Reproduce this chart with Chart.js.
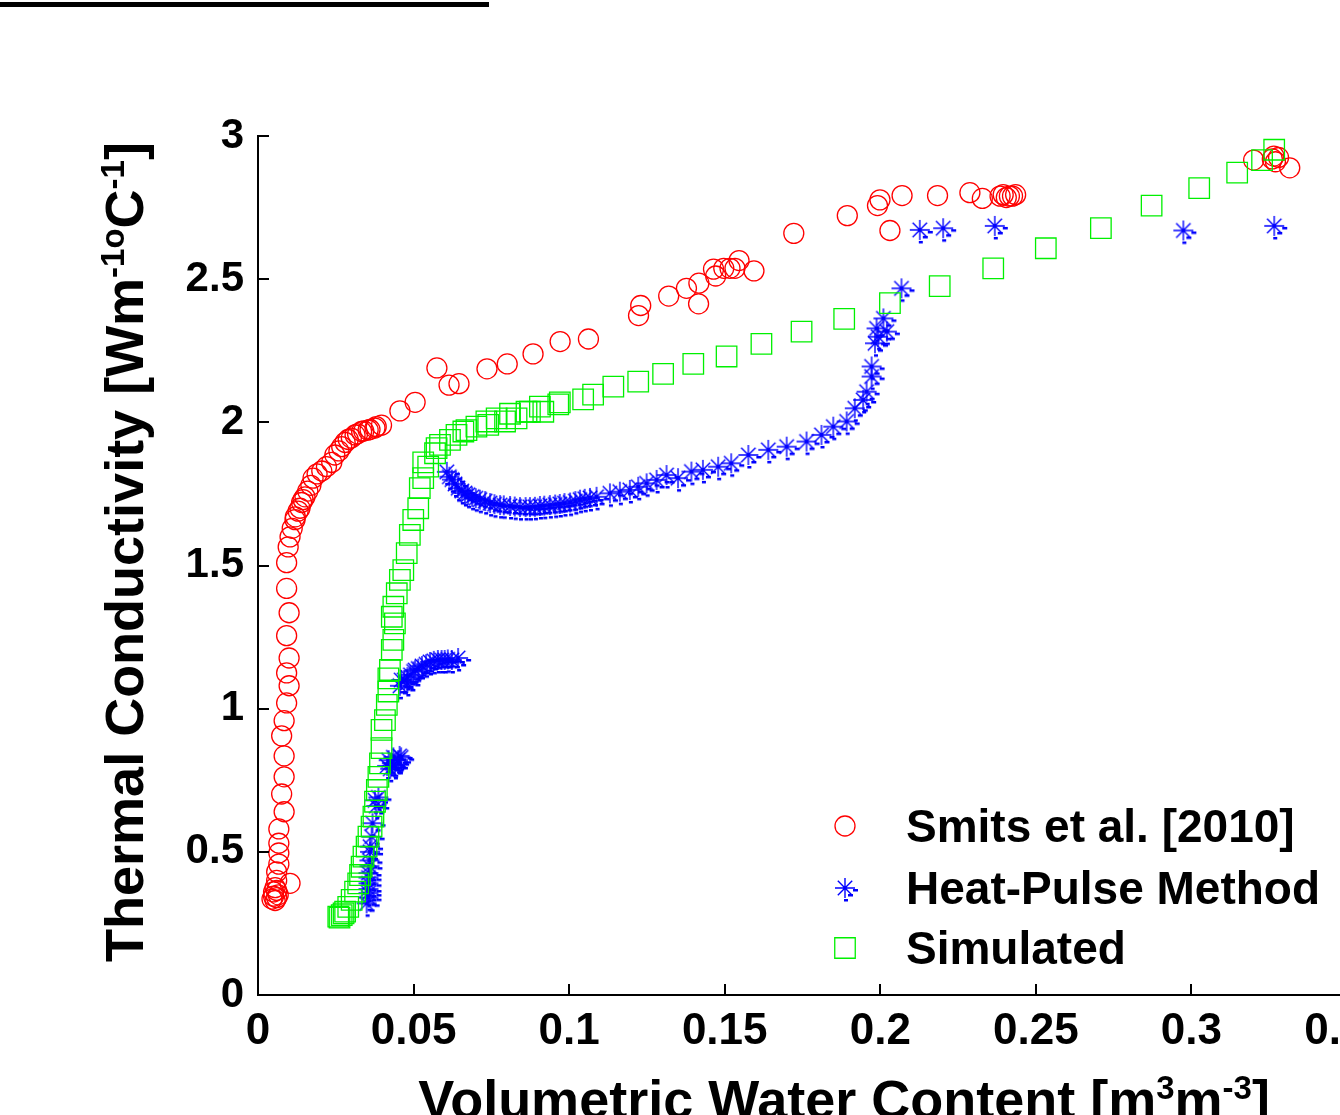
<!DOCTYPE html>
<html>
<head>
<meta charset="utf-8">
<script src="https://cdn.jsdelivr.net/npm/chart.js@4.4.1/dist/chart.umd.min.js"></script>
<style>
	body { margin: 0; overflow: hidden; background: #fff; }
	#topRule { position: absolute; left: 0; top: 2px; width: 489px; height: 5px; background: #000; }
	#wrap { position: absolute; left: 0; top: 0; }
</style>
</head>
<body>
<div id="topRule"></div>
<div id="wrap"><canvas id="conductivityChart" width="1400" height="1115"></canvas></div>
<script>
// Smits et al. [2010]
const smitsX = [0.0045, 0.005, 0.0055, 0.006, 0.0065, 0.005, 0.006, 0.0055, 0.006, 0.006, 0.0067, 0.0067, 0.0067, 0.0067, 0.0103,
	0.0084, 0.0076, 0.0084, 0.0084, 0.0076, 0.0084, 0.0092, 0.01, 0.0092, 0.01, 0.0092, 0.01, 0.0092, 0.0092, 0.0097,
	0.0103, 0.011, 0.0119, 0.012, 0.0129, 0.0135, 0.014, 0.0145, 0.0151, 0.016, 0.017, 0.0177, 0.019, 0.0205, 0.022,
	0.0237, 0.0247, 0.026, 0.0269, 0.028, 0.029, 0.03, 0.0312, 0.032, 0.0333, 0.034, 0.0354, 0.036, 0.0376, 0.038,
	0.0397, 0.0456, 0.0505, 0.0575, 0.0614, 0.0646, 0.0736, 0.0801, 0.0884, 0.0971, 0.1062, 0.1223, 0.123, 0.132, 0.1377,
	0.1416, 0.1417, 0.1464, 0.1471, 0.1497, 0.1517, 0.1533, 0.1546, 0.1594, 0.1722, 0.1894, 0.1991, 0.1999, 0.2031, 0.207,
	0.2184, 0.2288, 0.2328, 0.2385, 0.2395, 0.2405, 0.2415, 0.2425, 0.2435, 0.32, 0.326, 0.3265, 0.327, 0.328, 0.3316];
const smitsY = [0.335, 0.345, 0.33, 0.34, 0.35, 0.36, 0.365, 0.375, 0.4, 0.43, 0.457, 0.496, 0.53, 0.58, 0.39,
	0.64, 0.702, 0.762, 0.835, 0.905, 0.958, 1.02, 1.08, 1.125, 1.177, 1.255, 1.335, 1.42, 1.51, 1.565,
	1.6, 1.63, 1.66, 1.67, 1.69, 1.7, 1.72, 1.73, 1.74, 1.76, 1.78, 1.805, 1.82, 1.83, 1.845,
	1.86, 1.886, 1.9, 1.915, 1.93, 1.94, 1.945, 1.956, 1.96, 1.968, 1.97, 1.973, 1.975, 1.98, 1.985,
	1.99, 2.04, 2.07, 2.19, 2.13, 2.135, 2.187, 2.204, 2.239, 2.282, 2.291, 2.373, 2.408, 2.441, 2.468,
	2.414, 2.486, 2.535, 2.511, 2.538, 2.538, 2.538, 2.565, 2.529, 2.66, 2.722, 2.757, 2.777, 2.67, 2.792,
	2.792, 2.802, 2.782, 2.79, 2.795, 2.785, 2.79, 2.79, 2.795, 2.916, 2.92, 2.93, 2.91, 2.925, 2.889];

// Heat-Pulse Method
const pulseX = [0.0349, 0.0355, 0.0355, 0.0355, 0.0355, 0.0355, 0.0355, 0.0358, 0.0358, 0.036, 0.036, 0.0365, 0.0368, 0.038, 0.0376,
	0.0387, 0.0415, 0.042, 0.0425, 0.043, 0.0435, 0.044, 0.045, 0.0455, 0.046,
	0.0456, 0.046, 0.047, 0.048, 0.048, 0.049, 0.05, 0.0505, 0.0515, 0.0527, 0.054, 0.0553, 0.0565, 0.0578, 0.059, 0.06,
	0.061, 0.0623, 0.0643,
	0.0607, 0.0615, 0.0623, 0.0633, 0.0643, 0.0655, 0.0665, 0.0675, 0.0688, 0.07, 0.0713, 0.073, 0.0746, 0.076, 0.0778,
	0.079, 0.081, 0.0825, 0.0842, 0.086, 0.0874, 0.089, 0.0906, 0.092, 0.0938, 0.0955, 0.097, 0.0985, 0.1003, 0.102,
	0.1035, 0.105, 0.1067, 0.1088, 0.1131, 0.1163, 0.1195, 0.1222, 0.1249, 0.1281, 0.1313, 0.135, 0.1393, 0.143, 0.1479,
	0.1521, 0.1576, 0.164, 0.1699, 0.1763, 0.1811, 0.1849, 0.1892, 0.1918, 0.1945, 0.1956, 0.1972, 0.1972, 0.1983, 0.1988,
	0.1993, 0.201, 0.2021, 0.2068, 0.2127, 0.2202, 0.2368, 0.2974, 0.3266];
const pulseY = [0.32, 0.34, 0.356, 0.37, 0.39, 0.41, 0.426, 0.45, 0.47, 0.5, 0.518, 0.553, 0.6, 0.66, 0.68,
	0.69, 0.8, 0.82, 0.79, 0.81, 0.83, 0.8, 0.82, 0.835, 0.83,
	1.08, 1.1, 1.1, 1.09, 1.11, 1.118, 1.13, 1.135, 1.14, 1.149, 1.155, 1.163, 1.167, 1.17, 1.17, 1.17,
	1.172, 1.17, 1.177,
	1.827, 1.81, 1.8, 1.785, 1.77, 1.76, 1.753, 1.747, 1.74, 1.735, 1.73, 1.725, 1.718, 1.714, 1.711,
	1.71, 1.708, 1.706, 1.704, 1.704, 1.704, 1.705, 1.708, 1.709, 1.711, 1.713, 1.715, 1.718, 1.72, 1.725,
	1.73, 1.733, 1.736, 1.74, 1.752, 1.758, 1.764, 1.775, 1.787, 1.799, 1.816, 1.805, 1.828, 1.834, 1.845,
	1.857, 1.886, 1.904, 1.915, 1.933, 1.956, 1.985, 2.003, 2.049, 2.078, 2.107, 2.16, 2.195, 2.276, 2.328,
	2.299, 2.363, 2.317, 2.468, 2.672, 2.678, 2.686, 2.67, 2.686];

// Simulated
const simX = [0.0258, 0.0262, 0.0269, 0.0275, 0.028, 0.029, 0.0301, 0.0312, 0.0322, 0.0328, 0.0333, 0.0339, 0.0349, 0.0355, 0.0365,
	0.0371, 0.0376, 0.0382, 0.0387, 0.0392, 0.0397, 0.0397, 0.0408, 0.0414, 0.0419, 0.0419, 0.0424, 0.043, 0.0435, 0.044,
	0.043, 0.0435, 0.0446, 0.0456, 0.0467, 0.0478, 0.0488, 0.0499, 0.0515, 0.052, 0.0531, 0.0531, 0.0547, 0.0569, 0.0574,
	0.0585, 0.0617, 0.0638, 0.066, 0.067, 0.0702, 0.0734, 0.074, 0.0767, 0.0794, 0.081, 0.0831, 0.0863, 0.0874, 0.0906,
	0.0917, 0.0965, 0.097, 0.1045, 0.1077, 0.1142, 0.1222, 0.1302, 0.1399, 0.1506, 0.1618, 0.1747, 0.1884, 0.2031, 0.2191,
	0.2363, 0.2532, 0.2709, 0.2872, 0.3025, 0.3147, 0.3227, 0.3266];
const simY = [0.274, 0.27, 0.279, 0.285, 0.291, 0.308, 0.332, 0.361, 0.39, 0.419, 0.448, 0.483, 0.518, 0.553, 0.588,
	0.623, 0.675, 0.716, 0.762, 0.809, 0.862, 0.926, 0.96, 1.013, 1.06, 1.106, 1.135, 1.205, 1.24, 1.298,
	1.321, 1.356, 1.403, 1.45, 1.484, 1.543, 1.607, 1.659, 1.7, 1.77, 1.805, 1.86, 1.845, 1.892, 1.91,
	1.921, 1.939, 1.956, 1.968, 1.973, 1.985, 2.003, 1.991, 2.014, 2.003, 2.03, 2.014, 2.037, 2.037, 2.055,
	2.037, 2.063, 2.07, 2.08, 2.097, 2.125, 2.142, 2.169, 2.204, 2.23, 2.274, 2.317, 2.361, 2.416, 2.476,
	2.538, 2.608, 2.678, 2.757, 2.818, 2.872, 2.916, 2.952];

const seriesLabels = ['Smits et al. [2010]', 'Heat-Pulse Method', 'Simulated'];
const xTickStep = 0.05;
const yTickStep = 0.5;

const FONT = '"Liberation Sans", Arial, Helvetica, sans-serif';

// asterisk marker with the little dashes it has in the figure
function makeStarMarker() {
	const c = document.createElement('canvas');
	c.width = 40;
	c.height = 40;
	const g = c.getContext('2d');
	const cx = 20, cy = 20, r = 10;
	g.strokeStyle = '#0000ff';
	g.lineWidth = 1.4;
	g.beginPath();
	g.moveTo(cx - r, cy); g.lineTo(cx + r, cy);
	g.moveTo(cx, cy - r); g.lineTo(cx, cy + r);
	const d = r * 0.72;
	g.moveTo(cx - d, cy - d); g.lineTo(cx + d, cy + d);
	g.moveTo(cx - d, cy + d); g.lineTo(cx + d, cy - d);
	g.stroke();
	g.fillStyle = '#0000ff';
	g.fillRect(cx + 8, cy + 1, 5, 2.5);
	g.fillRect(cx + 3, cy + 6, 5, 2.5);
	g.fillRect(cx - 1, cy + 11, 4, 2.5);
	return c;
}
const starMarker = makeStarMarker();

function toPoints(xs, ys) {
	return xs.map((x, i) => ({ x: x, y: ys[i] }));
}

// draws text with superscript parts, centred on (x, y)
function drawRich(ctx, parts, x, y, size) {
	const supSize = Math.round(size * 0.62);
	let total = 0;
	parts.forEach((p) => {
		ctx.font = 'bold ' + (p.sup ? supSize : size) + 'px ' + FONT;
		p.w = ctx.measureText(p.t).width;
		total += p.w;
	});
	let px = x - total / 2;
	parts.forEach((p) => {
		ctx.font = 'bold ' + (p.sup ? supSize : size) + 'px ' + FONT;
		ctx.fillText(p.t, px, p.sup ? y - size * 0.36 : y);
		px += p.w;
	});
}

const decorations = {
	id: 'decorations',
	afterDraw(chart) {
		const { ctx, chartArea, scales } = chart;
		ctx.save();

		// inward ticks
		ctx.strokeStyle = '#000';
		ctx.lineWidth = 2;
		ctx.beginPath();
		scales.y.ticks.forEach((t) => {
			const py = Math.round(scales.y.getPixelForValue(t.value));
			ctx.moveTo(chartArea.left, py);
			ctx.lineTo(chartArea.left + 11, py);
		});
		scales.x.ticks.forEach((t) => {
			const px = Math.round(scales.x.getPixelForValue(t.value));
			ctx.moveTo(px, chartArea.bottom);
			ctx.lineTo(px, chartArea.bottom - 11);
		});
		ctx.stroke();

		// axis titles
		ctx.fillStyle = '#000';
		ctx.textBaseline = 'alphabetic';
		ctx.textAlign = 'left';
		drawRich(ctx, [
			{ t: 'Volumetric Water Content [m' }, { t: '3', sup: true },
			{ t: 'm' }, { t: '-3', sup: true }, { t: ']' }
		], 844, 1118, 54);

		ctx.save();
		ctx.translate(143, 552);
		ctx.rotate(-Math.PI / 2);
		drawRich(ctx, [
			{ t: 'Thermal Conductivity [Wm' }, { t: '-1', sup: true }, { t: 'o', sup: true },
			{ t: 'C' }, { t: '-1', sup: true }, { t: ']' }
		], 0, 0, 54);
		ctx.restore();

		// legend inside the plot
		const rows = [826, 888, 948];
		chart.data.datasets.forEach((ds, i) => {
			const mx = 845, my = rows[i];
			ctx.strokeStyle = ds.borderColor;
			ctx.lineWidth = ds.borderWidth;
			ctx.beginPath();
			if (ds.pointStyle === 'circle') {
				ctx.arc(mx, my, ds.pointRadius, 0, Math.PI * 2);
				ctx.stroke();
			} else if (ds.pointStyle === 'rect') {
				const h = ds.pointRadius * Math.SQRT1_2;
				ctx.rect(mx - h, my - h, 2 * h, 2 * h);
				ctx.stroke();
			} else {
				ctx.drawImage(ds.pointStyle, mx - ds.pointStyle.width / 2, my - ds.pointStyle.height / 2);
			}
			ctx.fillStyle = '#000';
			ctx.font = 'bold 46px ' + FONT;
			ctx.textBaseline = 'middle';
			ctx.fillText(seriesLabels[i], 906, my + 3);
		});

		ctx.restore();
	}
};

const ctx = document.getElementById('conductivityChart').getContext('2d');
new Chart(ctx, {
	type: 'scatter',
	data: {
		datasets: [
			{
				label: seriesLabels[0],
				data: toPoints(smitsX, smitsY),
				pointStyle: 'circle',
				pointRadius: 10,
				borderColor: '#ff0000',
				backgroundColor: 'rgba(0,0,0,0)',
				borderWidth: 1.3,
				order: 3
			},
			{
				label: seriesLabels[1],
				data: toPoints(pulseX, pulseY),
				pointStyle: starMarker,
				pointRadius: 10,
				borderColor: '#0000ff',
				backgroundColor: 'rgba(0,0,0,0)',
				borderWidth: 1.3,
				order: 2
			},
			{
				label: seriesLabels[2],
				data: toPoints(simX, simY),
				pointStyle: 'rect',
				pointRadius: 14.5,
				borderColor: '#00f000',
				backgroundColor: 'rgba(0,0,0,0)',
				borderWidth: 1.3,
				order: 1
			}
		]
	},
	options: {
		responsive: false,
		animation: false,
		events: [],
		layout: { padding: { top: 136, right: 53, left: 0, bottom: 0 } },
		plugins: { legend: { display: false }, tooltip: { enabled: false } },
		scales: {
			x: {
				type: 'linear',
				min: 0,
				max: 0.35,
				afterFit: (s) => { s.height = 120; },
				ticks: {
					stepSize: xTickStep,
					padding: 10,
					color: '#000',
					font: { family: FONT, size: 44, weight: 'bold' },
					callback: (v) => +v.toFixed(2)
				},
				grid: { display: true, drawOnChartArea: false, drawTicks: false },
				border: { display: true, color: '#000', width: 2 }
			},
			y: {
				type: 'linear',
				min: 0,
				max: 3,
				afterFit: (s) => { s.width = 258; },
				ticks: {
					stepSize: yTickStep,
					padding: 14,
					color: '#000',
					font: { family: FONT, size: 42, weight: 'bold' },
					callback: (v) => +v.toFixed(1)
				},
				grid: { display: true, drawOnChartArea: false, drawTicks: false },
				border: { display: true, color: '#000', width: 2 }
			}
		}
	},
	plugins: [decorations]
});
</script>
</body>
</html>
